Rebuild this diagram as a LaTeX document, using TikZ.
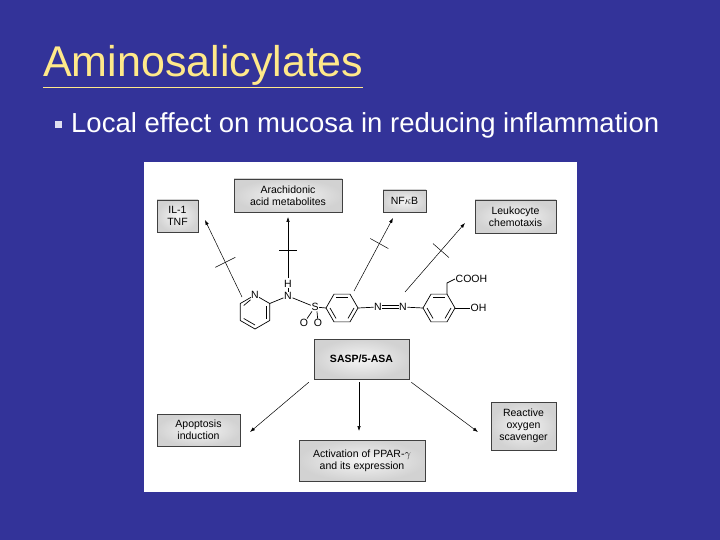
\documentclass[tikz,border=0pt]{standalone}
\usepackage{fontspec}
\setmainfont{Liberation Sans}
\usetikzlibrary{arrows.meta,calc}
\definecolor{bg}{HTML}{333399}
\definecolor{ttl}{HTML}{FFE98A}
\begin{document}
\begin{tikzpicture}[x=1pt,y=-1pt,
  box/.style={draw=gray!50!black,line width=0.5pt,inner color=gray!8,outer color=gray!35,align=center,font=\fontsize{10.5}{12}\selectfont,inner sep=2pt},
  arr/.style={-{Latex[length=5pt,width=3.5pt]},line width=0.5pt},
  bond/.style={line width=0.7pt},
  atom/.style={font=\fontsize{10.5}{12}\selectfont,inner sep=0.5pt}]
\useasboundingbox (0,0) rectangle (720,540);
\fill[bg] (0,0) rectangle (720,540);
\node[anchor=base west,text=ttl,font=\fontsize{43}{48}\selectfont,inner sep=0] (title) at (43,77) {\underline{Aminosalicylates}};
\fill[white!85!bg] (55,121) rectangle (62,128);
\node[anchor=base west,text=white,font=\fontsize{27.5}{32}\selectfont,inner sep=0] (bul) at (71,133) {Local effect on mucosa in reducing inflammation};
\fill[white] (144,162) rectangle (577,492);
% boxes
\node[box,minimum width=41,minimum height=32] (il) at (177.5,216) {IL-1\\TNF};
\node[box,minimum width=108,minimum height=33] (ara) at (288,195.5) {Arachidonic\\acid metabolites};
\node[box,minimum width=43,minimum height=22] (nf) at (404.5,201) {NF$\kappa$B};
\node[box,minimum width=81,minimum height=33] (leu) at (515.5,216.5) {Leukocyte\\chemotaxis};
\node[box,minimum width=95,minimum height=40,font=\bfseries\fontsize{10.5}{12}\selectfont] (sasp) at (361.5,359) {SASP/5-ASA};
\node[box,minimum width=83,minimum height=32] (apo) at (198.5,430) {Apoptosis\\induction};
\node[box,minimum width=126,minimum height=41] (act) at (362,460.5) {Activation of PPAR-$\gamma$\\and its expression};
\node[box,minimum width=65,minimum height=48] (ros) at (523.5,426) {Reactive\\oxygen\\scavenger};
% pyridine
\coordinate (p0) at (255,312);
\draw[bond] (p0) ++(-90:17) coordinate (pa) -- ++(30:17) coordinate (pb) -- ++(90:17) -- ++(150:17) coordinate (pd) -- ++(210:17) -- ++(270:17) coordinate (pf) -- cycle;
\draw[bond] ($(p0)+(30:13)$) -- ($(p0)+(-30:13)$);
\draw[bond] ($(p0)+(90:13)$) -- ($(p0)+(150:13)$);
\draw[bond] ($(p0)+(-150:13)$) -- ($(p0)+(-110:13)$);
\node[atom,fill=white] (pyN) at (pa) {N};
\node[atom] (nh) at (288,296) {N};
\node[atom] (hh) at (288,284) {H};
\node[atom] (s) at (315,307) {S};
\node[atom] (o1) at (304,323) {O};
\node[atom] (o2) at (318,323) {O};
\draw[bond] (pb) -- (nh);
\draw[bond] (nh) -- (hh);
\draw[bond] (nh) -- (s);
\draw[bond] (s) -- (o1);
\draw[bond] (s.south) ++(2,0) -- (o2);
% benzene
\coordinate (b0) at (342,308);
\draw[bond] (b0) ++(0:16) coordinate (bR) -- ++(-120:16) coordinate (bUR) -- ++(180:16) coordinate (bUL) -- ++(120:16) coordinate (bL) -- ++(60:16) -- ++(0:16) -- cycle;
\draw[bond] ($(b0)+(-120:12)$) -- ($(b0)+(-60:12)$);
\draw[bond] ($(b0)+(0:12)$) -- ($(b0)+(60:12)$);
\draw[bond] ($(b0)+(180:12)$) -- ($(b0)+(120:12)$);
\draw[bond] (s) -- (bL);
\node[atom] (n1) at (378,307) {N};
\node[atom] (n2) at (403,307) {N};
\draw[bond] (bR) -- (n1);
\draw[bond] ([yshift=-1.3]n1.east) -- ([yshift=-1.3]n2.west);
\draw[bond] ([yshift=1.3]n1.east) -- ([yshift=1.3]n2.west);
% salicylic ring
\coordinate (r0) at (439,308);
\draw[bond] (r0) ++(0:16) coordinate (rR) -- ++(-120:16) coordinate (rUR) -- ++(180:16) coordinate (rUL) -- ++(120:16) coordinate (rL) -- ++(60:16) -- ++(0:16) -- cycle;
\draw[bond] ($(r0)+(-120:12)$) -- ($(r0)+(-60:12)$);
\draw[bond] ($(r0)+(0:12)$) -- ($(r0)+(60:12)$);
\draw[bond] ($(r0)+(180:12)$) -- ($(r0)+(120:12)$);
\draw[bond] (n2) -- (rL);
\node[atom,anchor=west] (cooh) at (455,279) {COOH};
\node[atom,anchor=west] (oh) at (470,308) {OH};
\draw[bond] (rUR) -- (447,283) -- (cooh.west);
\draw[bond] (rR) -- (oh.west);
% inhibition arrows
\coordinate (s1) at (242,297);
\coordinate (s2) at (288,278);
\coordinate (s3) at (354,291);
\coordinate (s4) at (405,292);
\draw[arr] (s1) -- (205,220) coordinate[pos=0.45] (m1);
\draw[arr] (s2) -- (288,217) coordinate[pos=0.45] (m2);
\draw[arr] (s3) -- (393,218) coordinate[pos=0.65] (m3);
\draw[arr] (s4) -- (465,223) coordinate[pos=0.6] (m4);
\draw[line width=0.5pt] (m1) ++(-10,5) -- ++(20,-10);
\draw[line width=0.5pt] (m2) ++(-9,0) -- ++(18,0);
\draw[line width=0.5pt] (m3) ++(-9,-5) -- ++(18,10);
\draw[line width=0.5pt] (m4) ++(-8,-7) -- ++(16,14);
% bottom arrows
\draw[arr] (sasp.south west) ++(-5,3) -- (250,432);
\draw[arr] (359,382) -- (359,431);
\draw[arr] (sasp.south east) ++(2,3) -- (478,432);
\end{tikzpicture}
\end{document}
